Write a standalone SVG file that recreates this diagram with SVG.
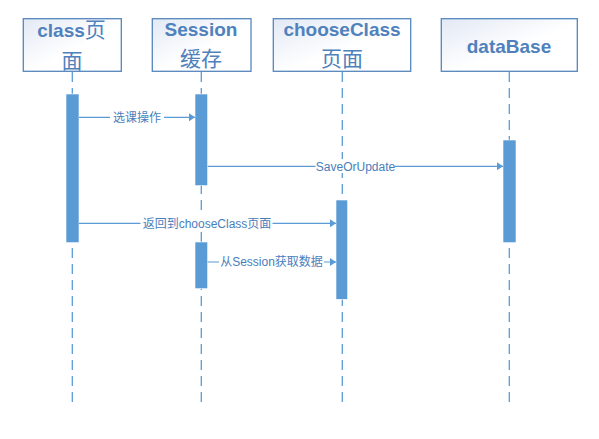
<svg xmlns="http://www.w3.org/2000/svg" width="599" height="439" viewBox="0 0 599 439">
<defs>
<linearGradient id="boxfill" x1="0" y1="0" x2="1" y2="1">
<stop offset="0" stop-color="#e2e9f5"/>
<stop offset="0.55" stop-color="#ffffff"/>
<stop offset="1" stop-color="#ffffff"/>
</linearGradient>
<marker id="arr" markerWidth="6" markerHeight="8" refX="6" refY="4" orient="auto" markerUnits="userSpaceOnUse">
<path d="M0,0 L6,4 L0,8 Z" fill="#5b9bd5"/>
</marker>
<style>
.box{fill:url(#boxfill);stroke:#5686bd;stroke-width:1.3}
.title{font-family:"Liberation Sans","Noto Sans CJK SC",sans-serif;font-weight:bold;font-size:19px;fill:#4f81bd;text-anchor:middle}
.cjk{font-family:"Noto Sans CJK SC","Liberation Sans",sans-serif;font-weight:normal;font-size:21px;fill:#4f81bd;text-anchor:middle}
.life{stroke:#5b9bd5;stroke-width:1.3;stroke-dasharray:10 6;fill:none}
.bar{fill:#5b9bd5;stroke:#ffffff;stroke-width:0.6}
.msg{stroke:#5b9bd5;stroke-width:1.2;fill:none;marker-end:url(#arr)}
.lblbg{fill:#ffffff}
.lbl{font-family:"Liberation Sans","Noto Sans CJK SC",sans-serif;font-size:12px;fill:#4a7ebb;text-anchor:middle}
</style>
</defs>
<rect width="599" height="439" fill="#ffffff"/>
<g id="lifelines">
<line class="life" x1="72.3" y1="72" x2="72.3" y2="404"/>
<line class="life" x1="201.3" y1="72" x2="201.3" y2="404"/>
<line class="life" x1="342.3" y1="72" x2="342.3" y2="404"/>
<line class="life" x1="509.3" y1="72" x2="509.3" y2="404"/>
</g>
<g id="node-class">
<rect class="box" x="23.3" y="18.7" width="98" height="52.6"/>
<text class="title" x="71.5" y="37">class<tspan font-family="Noto Sans CJK SC,sans-serif" font-weight="normal" font-size="21px">页</tspan></text>
<text class="cjk" x="72" y="68">面</text>
</g>
<g id="node-session">
<rect class="box" x="152.3" y="18.7" width="98.7" height="52.6"/>
<text class="title" x="201" y="36">Session</text>
<text class="cjk" x="201" y="66">缓存</text>
</g>
<g id="node-chooseclass">
<rect class="box" x="273.3" y="18.7" width="137.4" height="52.6"/>
<text class="title" x="342" y="36">chooseClass</text>
<text class="cjk" x="342" y="66">页面</text>
</g>
<g id="node-database">
<rect class="box" x="441.3" y="18.7" width="136" height="52.6"/>
<text class="title" x="509" y="52.5" font-size="20px">dataBase</text>
</g>
<g id="activations">
<rect class="bar" x="66" y="94" width="13" height="148.7"/>
<rect class="bar" x="195" y="94" width="12.7" height="91.7"/>
<rect class="bar" x="503" y="140" width="13" height="102.7"/>
<rect class="bar" x="336" y="200" width="11.7" height="99.3"/>
<rect class="bar" x="195" y="242" width="12.7" height="46.7"/>
</g>
<g id="connectors">
<line class="msg" x1="79" y1="117.3" x2="195" y2="117.3"/>
<rect class="lblbg" x="110" y="110" width="54" height="14"/>
<text class="lbl" x="137" y="121.8" font-size="13px">选课操作</text>
<line class="msg" x1="207.7" y1="166.3" x2="503" y2="166.3"/>
<rect class="lblbg" x="315.5" y="159" width="79" height="14"/>
<text class="lbl" x="355.5" y="170.5">SaveOrUpdate</text>
<line class="msg" x1="79" y1="223.3" x2="336" y2="223.3"/>
<rect class="lblbg" x="140.5" y="216" width="132" height="14"/>
<text class="lbl" x="207" y="227.5">返回到chooseClass页面</text>
<line class="msg" x1="207.7" y1="262" x2="336" y2="262"/>
<rect class="lblbg" x="219" y="255" width="105" height="14"/>
<text class="lbl" x="271.5" y="266.2">从Session获取数据</text>
</g>
</svg>
